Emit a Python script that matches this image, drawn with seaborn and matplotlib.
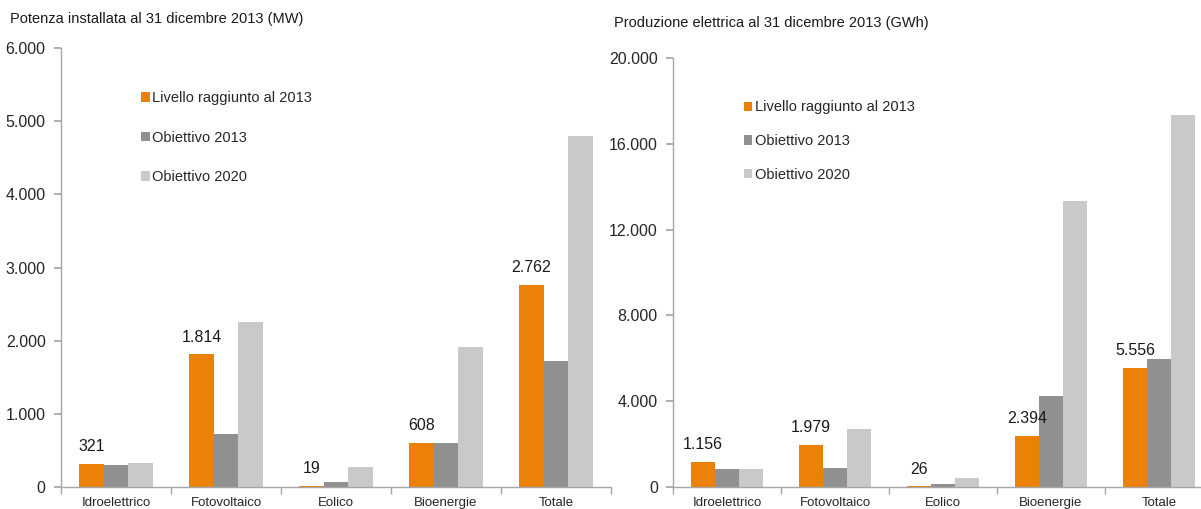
import pandas as pd
import numpy as np
import matplotlib
matplotlib.use("Agg")
import matplotlib.pyplot as plt
import matplotlib.ticker as mticker
from matplotlib.patches import Patch
import seaborn as sns

# Data
categories = ["Idroelettrico", "Fotovoltaico", "Eolico", "Bioenergie", "Totale"]
series = ["Livello raggiunto al 2013", "Obiettivo 2013", "Obiettivo 2020"]

potenza_livello = [321, 1814, 19, 608, 2762]
potenza_obj2013 = [305, 724, 73, 608, 1722]
potenza_obj2020 = [328, 2250, 278, 1909, 4793]

produzione_livello = [1156, 1979, 26, 2394, 5556]
produzione_obj2013 = [824, 886, 124, 4227, 5983]
produzione_obj2020 = [824, 2704, 420, 13318, 17358]

colors = ["#EB8106", "#909090", "#C9C9C9"]

sns.set_theme(style="white")
plt.rcParams["font.family"] = ["Liberation Sans", "DejaVu Sans"]


def to_long(livello, obj2013, obj2020):
    rows = []
    for s, vals in zip(series, [livello, obj2013, obj2020]):
        for c, v in zip(categories, vals):
            rows.append({"cat": c, "serie": s, "valore": v})
    return pd.DataFrame(rows)


def thousands(x, pos):
    return f"{int(x):,}".replace(",", ".")


def draw_panel(ax, df, livello, ymax, yticks, leg_anchor, leg_spacing):
    sns.barplot(data=df, x="cat", y="valore", hue="serie", order=categories,
                hue_order=series, palette=colors, width=0.67, gap=0,
                linewidth=0, saturation=1, legend=False, ax=ax)
    ax.set_ylim(0, ymax)
    ax.set_xlim(-0.5, 4.5)
    ax.set_yticks(yticks)
    ax.yaxis.set_major_formatter(mticker.FuncFormatter(thousands))
    ax.set_xlabel("")
    ax.set_ylabel("")
    for side in ["top", "right"]:
        ax.spines[side].set_visible(False)
    for side in ["left", "bottom"]:
        ax.spines[side].set_color("#A6A6A6")
        ax.spines[side].set_linewidth(1.0)
    ax.tick_params(axis="y", which="major", length=5, color="#A6A6A6",
                   left=True, labelsize=11.5, pad=6)
    ax.tick_params(axis="x", which="major", length=0, labelsize=9.5, pad=7)
    ax.set_xticks(np.arange(-0.5, 5.0, 1.0), minor=True)
    ax.tick_params(axis="x", which="minor", length=5, color="#A6A6A6", bottom=True)

    # value labels above the orange bars
    bar_w = 0.67 / 3
    for i, v in enumerate(livello):
        ax.annotate(thousands(v, None), (i - bar_w, v), xytext=(0, 7),
                    textcoords="offset points", ha="center", va="bottom",
                    fontsize=11.5, color="#1a1a1a")

    handles = [Patch(facecolor=c, edgecolor="none") for c in colors]
    ax.legend(handles, series, loc="upper left", bbox_to_anchor=leg_anchor,
              frameon=False, handlelength=0.6, handleheight=0.6,
              handletextpad=0.15, labelspacing=leg_spacing, fontsize=10.5,
              borderaxespad=0)


fig = plt.figure(figsize=(12.01, 5.09), dpi=100)
ax1 = fig.add_axes([0.0508, 0.0432, 0.458, 0.8625])
ax2 = fig.add_axes([0.5604, 0.0432, 0.4496, 0.8428])

draw_panel(ax1, to_long(potenza_livello, potenza_obj2013, potenza_obj2020),
           potenza_livello, 6000, np.arange(0, 6001, 1000), (0.135, 0.915), 1.75)
draw_panel(ax2, to_long(produzione_livello, produzione_obj2013, produzione_obj2020),
           produzione_livello, 20000, np.arange(0, 20001, 4000), (0.12, 0.915), 1.35)

fig.text(10 / 1201, 1 - 19 / 509, "Potenza installata al 31 dicembre 2013 (MW)",
         fontsize=10.5, va="center", ha="left", color="#1a1a1a")
fig.text(614 / 1201, 1 - 23 / 509, "Produzione elettrica al 31 dicembre 2013 (GWh)",
         fontsize=10.5, va="center", ha="left", color="#1a1a1a")

fig.savefig("out.png", dpi=100)
